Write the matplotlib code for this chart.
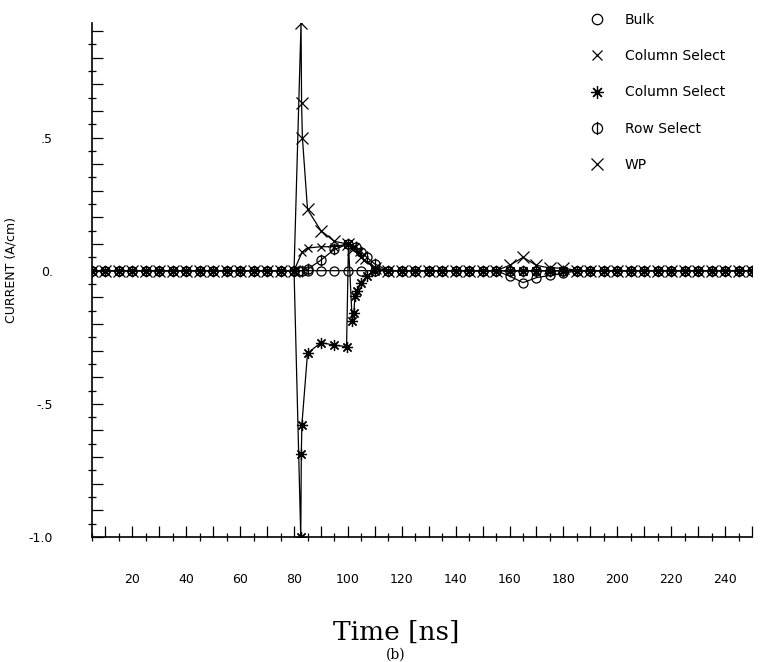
import matplotlib
matplotlib.use("Agg")
import matplotlib.pyplot as plt
from matplotlib.lines import Line2D
from matplotlib.path import Path
from matplotlib.ticker import MultipleLocator, FuncFormatter

# sampling times on the flat parts (ns)
t_pre = [5, 10, 15, 20, 25, 30, 35, 40, 45, 50, 55, 60, 65, 70, 75, 80]
t_post = [115, 120, 125, 130, 135, 140, 145, 150, 155, 160, 165, 170, 175,
          180, 185, 190, 195, 200, 205, 210, 215, 220, 225, 230, 235, 240,
          245, 250]

# event region around the switching (t, value)
bulk_t = [82, 85, 90, 95, 100, 105, 110]
bulk_v = [0.0, 0.0, 0.0, 0.0, 0.0, 0.0, 0.0]
bulk_post = [0.0, 0.0, 0.0, 0.0, 0.0, 0.0, 0.0, 0.0, 0.0,
             -0.02, -0.045, -0.026, -0.018, -0.01,
             0.0, 0.0, 0.0, 0.0, 0.0, 0.0, 0.0, 0.0, 0.0, 0.0, 0.0, 0.0,
             0.0, 0.0]

cs1_t = [83, 85, 90, 95, 100, 102, 104, 106, 110]
cs1_v = [0.07, 0.085, 0.09, 0.09, 0.1, 0.09, 0.07, 0.04, 0.01]

cs2_t = [82.5, 82.7, 82.9, 85, 90, 95, 99.5, 100.2, 101.6, 102.2, 102.6,
         103.5, 105, 107, 110]
cs2_v = [-1.0, -0.69, -0.58, -0.31, -0.27, -0.28, -0.285, 0.1, -0.19, -0.16,
         -0.094, -0.075, -0.045, -0.02, 0.0]

row_t = [83, 85, 90, 95, 100, 103, 105, 107, 110]
row_v = [0.0, 0.005, 0.04, 0.08, 0.1, 0.09, 0.07, 0.05, 0.025]

wp_t = [82.6, 82.8, 83.1, 85, 90, 95, 100, 102, 105, 110]
wp_v = [0.93, 0.63, 0.5, 0.23, 0.15, 0.11, 0.1, 0.08, 0.05, 0.01]
wp_post = [0.0, 0.0, 0.0, 0.0, 0.0, 0.0, 0.0, 0.0, 0.0,
           0.02, 0.05, 0.02, 0.01, 0.01,
           0.0, 0.0, 0.0, 0.0, 0.0, 0.0, 0.0, 0.0, 0.0, 0.0, 0.0, 0.0,
           0.0, 0.0]

zeros_pre = [0.0] * len(t_pre)
zeros_post = [0.0] * len(t_post)

labels = ["Bulk", "Column Select", "Column Select", "Row Select", "WP"]

# circle with a vertical bar for Row Select
phi = Path.make_compound_path(Path.unit_circle(),
                              Path([[0, -1.3], [0, 1.3]],
                                   [Path.MOVETO, Path.LINETO]))

series = [
    (t_pre + bulk_t + t_post, zeros_pre + bulk_v + bulk_post, "o", 6.5),
    (t_pre + cs1_t + t_post, zeros_pre + cs1_v + zeros_post, "x", 6),
    (t_pre + cs2_t + t_post, zeros_pre + cs2_v + zeros_post, (8, 2, 0), 8),
    (t_pre + row_t + t_post, zeros_pre + row_v + zeros_post, phi, 8.5),
    (t_pre + wp_t + t_post, zeros_pre + wp_v + wp_post, "x", 8),
]

tick_font = ["Liberation Sans Narrow", "DejaVu Sans"]

fig = plt.figure(figsize=(7.61, 6.62), dpi=100)
ax = fig.add_axes([92 / 761, 1 - 537 / 662, 660 / 761, 514 / 662])

handles = []
for (t, v, m, ms), lab in zip(series, labels):
    ax.plot(t, v, color="black", lw=0.9, marker=m, ms=ms, mfc="none",
            mec="black", mew=0.9, clip_on=True)
    handles.append(Line2D([], [], ls="none", marker=m, ms=ms + 1, mfc="none",
                          mec="black", mew=0.9, label=lab))

ax.set_xlim(5, 250)
ax.set_ylim(-1.0, 0.93)

for s in ["top", "right"]:
    ax.spines[s].set_visible(False)
ax.spines["left"].set_linewidth(1.2)
ax.spines["bottom"].set_linewidth(1.2)

ax.xaxis.set_major_locator(MultipleLocator(10))
ax.xaxis.set_minor_locator(MultipleLocator(5))
ax.xaxis.set_major_formatter(FuncFormatter(
    lambda x, p: f"{int(round(x))}" if round(x) % 20 == 0 and x > 5 else ""))

ylabels = {-1.0: "-1.0", -0.5: "-.5", 0.0: "0.", 0.5: ".5"}
ax.yaxis.set_major_locator(MultipleLocator(0.1))
ax.yaxis.set_minor_locator(MultipleLocator(0.05))
ax.yaxis.set_major_formatter(FuncFormatter(
    lambda y, p: ylabels.get(round(y, 2), "")))

ax.tick_params(which="major", direction="in", length=8, width=0.9)
ax.tick_params(which="minor", direction="inout", length=6, width=0.9)
ax.tick_params(axis="x", which="major", pad=26, labelsize=9)
ax.tick_params(axis="y", which="major", pad=28, labelsize=9)
for lbl in ax.get_xticklabels() + ax.get_yticklabels():
    lbl.set_family(tick_font)

ax.set_ylabel("CURRENT (A/cm)", fontsize=9, family=tick_font)
ax.yaxis.set_label_coords((18 - 92) / 660, 0.52)

fig.text(396 / 761, 1 - 632 / 662, "Time [ns]", ha="center", va="center",
         fontsize=19, family="DejaVu Serif")
fig.text(396 / 761, 1 - 655 / 662, "(b)", ha="center", va="center",
         fontsize=10, family="DejaVu Serif")

leg = fig.legend(handles=handles, loc="upper left",
                 bbox_to_anchor=(590 / 761, 1 - 13 / 662), frameon=False,
                 handlelength=1.0, handletextpad=1.5, labelspacing=1.6,
                 borderpad=0, borderaxespad=0, prop={"family": tick_font,
                                                     "size": 10})

fig.savefig("out.png", dpi=100)
